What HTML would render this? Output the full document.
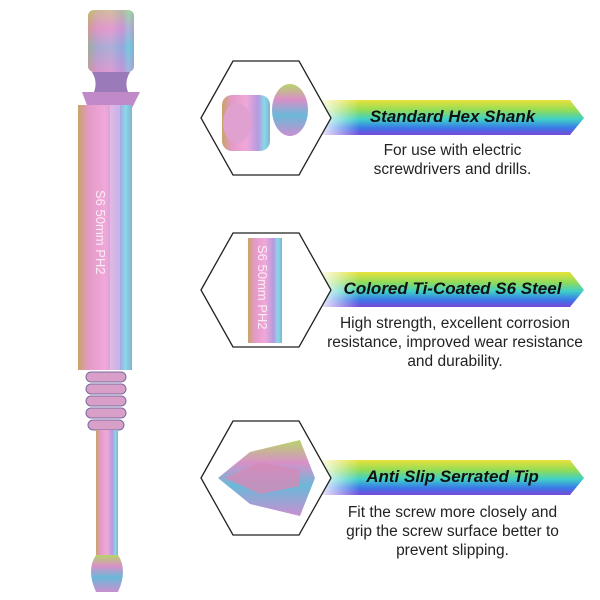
<!DOCTYPE html>
<html><head><style>
body{margin:0;width:600px;height:600px;background:#fff;overflow:hidden;font-family:"Liberation Sans",sans-serif}
.t{position:absolute;text-align:center;color:#111}
.h{font-weight:bold;font-style:italic;font-size:17px}
.d{font-size:15.5px;line-height:19px;color:#222}
</style></head><body>
<svg width="600" height="600" style="position:absolute;left:0;top:0">
<defs>
<linearGradient id="bn" x1="0" y1="0" x2="0" y2="1">
<stop offset="0" stop-color="#e9e23a"/><stop offset="0.3" stop-color="#8fdc5a"/><stop offset="0.55" stop-color="#3fd0c8"/><stop offset="0.8" stop-color="#3a78e8"/><stop offset="1" stop-color="#7a48d8"/>
</linearGradient>
<linearGradient id="fade" x1="0" y1="0" x2="1" y2="0">
<stop offset="0" stop-color="#fff" stop-opacity="0.9"/><stop offset="1" stop-color="#fff" stop-opacity="0"/>
</linearGradient>
<linearGradient id="metal" x1="0" y1="0" x2="1" y2="0">
<stop offset="0" stop-color="#c9a36a"/><stop offset="0.2" stop-color="#e49ac8"/><stop offset="0.5" stop-color="#f0a8d8"/><stop offset="0.75" stop-color="#b59ae0"/><stop offset="0.88" stop-color="#8ad8e8"/><stop offset="1" stop-color="#7fb4d0"/>
</linearGradient>
<linearGradient id="metal2" x1="0" y1="0" x2="0" y2="1">
<stop offset="0" stop-color="#b8d46a"/><stop offset="0.3" stop-color="#d890c8"/><stop offset="0.6" stop-color="#6ab8d8"/><stop offset="1" stop-color="#c890d0"/>
</linearGradient>
</defs>
<rect x="88" y="10" width="46" height="62" rx="6" fill="url(#metal2)"/>
<rect x="88" y="10" width="46" height="62" rx="6" fill="url(#metal)" opacity="0.5"/>
<path d="M92 72 Q98 82 94 92 L128 92 Q124 82 130 72Z" fill="#9a7ab8"/>
<path d="M82 92 L140 92 L132 108 L88 108Z" fill="#c08ac8"/>
<rect x="78" y="105" width="54" height="265" fill="url(#metal)"/>
<rect x="110" y="105" width="10" height="265" fill="#fff" opacity="0.25"/>
<text x="0" y="0" transform="translate(96,190) rotate(90)" fill="#fff" opacity="0.8" font-size="13" font-family="Liberation Sans">S6 50mm PH2</text>
<g fill="#d8a0c8" stroke="#7a6aa0" stroke-width="1">
<rect x="86" y="372" width="40" height="10" rx="5"/><rect x="86" y="384" width="40" height="10" rx="5"/><rect x="86" y="396" width="40" height="10" rx="5"/><rect x="86" y="408" width="40" height="10" rx="5"/><rect x="88" y="420" width="36" height="10" rx="5"/>
</g>
<rect x="96" y="430" width="22" height="125" fill="url(#metal)"/>
<path d="M96 555 Q86 570 96 592 L118 592 Q128 570 118 555Z" fill="url(#metal2)"/>
<g>
<path d="M320 100 L570 100 L584 118 L570 135 L320 135Z" fill="url(#bn)"/>
<rect x="320" y="100" width="40" height="35" fill="url(#fade)"/>
<path d="M320 272 L570 272 L584 290 L570 307 L320 307Z" fill="url(#bn)"/>
<rect x="320" y="272" width="40" height="35" fill="url(#fade)"/>
<path d="M320 460 L570 460 L584 478 L570 495 L320 495Z" fill="url(#bn)"/>
<rect x="320" y="460" width="40" height="35" fill="url(#fade)"/>
</g>
<g fill="#fff" stroke="#222" stroke-width="1.3">
<path d="M201 118 L233 61 L299 61 L331 118 L299 175 L233 175Z"/>
<path d="M201 290 L233 233 L299 233 L331 290 L299 347 L233 347Z"/>
<path d="M201 478 L233 421 L299 421 L331 478 L299 535 L233 535Z"/>
</g>
<g>
<rect x="222" y="95" width="48" height="56" rx="10" fill="url(#metal)"/>
<ellipse cx="237" cy="123" rx="14" ry="20" fill="#e0a0d0"/>
<ellipse cx="290" cy="110" rx="18" ry="26" fill="url(#metal2)"/>
<rect x="248" y="238" width="34" height="105" fill="url(#metal)"/>
<text x="0" y="0" transform="translate(258,245) rotate(90)" fill="#fff" opacity="0.8" font-size="13" font-family="Liberation Sans">S6 50mm PH2</text>
<path d="M218 478 L250 452 L300 440 L315 478 L300 516 L250 504Z" fill="url(#metal2)"/>
<path d="M225 478 L260 462 L300 470 L300 486 L260 494Z" fill="#d48ab8" opacity="0.8"/>
</g>
</svg>
<div class="t h" style="left:330px;width:245px;top:107px">Standard Hex Shank</div>
<div class="t d" style="left:320px;width:265px;top:141px">For use with electric<br>screwdrivers and drills.</div>
<div class="t h" style="left:330px;width:245px;top:279px">Colored Ti-Coated S6 Steel</div>
<div class="t d" style="left:310px;width:290px;top:314px">High strength, excellent corrosion<br>resistance, improved wear resistance<br>and durability.</div>
<div class="t h" style="left:330px;width:245px;top:467px">Anti Slip Serrated Tip</div>
<div class="t d" style="left:320px;width:265px;top:503px">Fit the screw more closely and<br>grip the screw surface better to<br>prevent slipping.</div>
</body></html>
